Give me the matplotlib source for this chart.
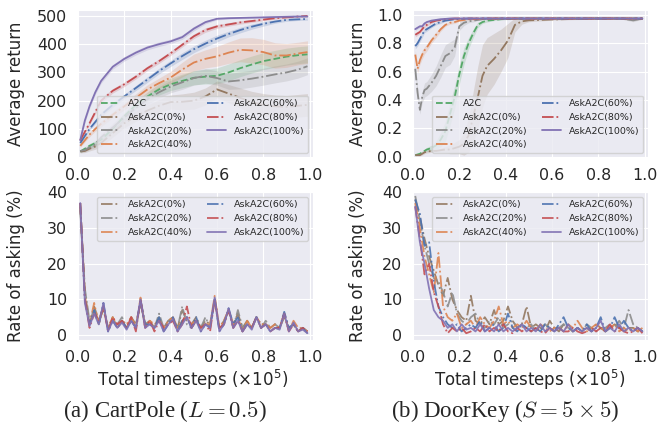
import numpy as np
import matplotlib
matplotlib.use('Agg')
import matplotlib.pyplot as plt
import seaborn as sns

sns.set_style('darkgrid')
plt.rcParams['font.family'] = ['DejaVu Sans']
plt.rcParams['mathtext.fontset'] = 'dejavusans'

# colours / styles per method (seaborn deep palette)
names = ['A2C', 'AskA2C(0%)', 'AskA2C(20%)', 'AskA2C(40%)',
         'AskA2C(60%)', 'AskA2C(80%)', 'AskA2C(100%)']
colors = ['#55A868', '#937860', '#8C8C8C', '#DD8452', '#4C72B0', '#C44E52', '#8172B3']
styles = ['--', '-.', '-.', '-.', '-.', '-.', '-']

# ---- CartPole average return ----
cp_x = [0.01, 0.03, 0.05, 0.075, 0.1, 0.15, 0.2, 0.25, 0.3, 0.35, 0.4, 0.45,
        0.5, 0.55, 0.6, 0.65, 0.7, 0.75, 0.8, 0.85, 0.9, 0.95, 0.99]
cp_a2c = [20, 30, 40, 50, 62, 100, 145, 185, 215, 240, 258, 270,
          281, 285, 288, 300, 315, 328, 340, 348, 356, 361, 364]
cp_0 = [20, 22, 30, 38, 50, 85, 120, 145, 165, 182, 195, 196,
        200, 215, 240, 225, 210, 195, 185, 180, 178, 182, 185]
cp_20 = [22, 25, 35, 45, 70, 105, 140, 175, 205, 230, 250, 265,
         280, 288, 280, 268, 272, 278, 285, 293, 300, 310, 322]
cp_40 = [40, 60, 80, 100, 118, 150, 180, 210, 240, 262, 282, 310,
         335, 348, 357, 370, 380, 378, 372, 360, 360, 367, 372]
cp_60 = [50, 75, 100, 125, 150, 185, 215, 245, 275, 305, 332, 358,
         382, 402, 420, 436, 450, 462, 472, 480, 486, 488, 489]
cp_80 = [60, 90, 120, 160, 200, 235, 258, 285, 315, 340, 368, 398,
         428, 450, 463, 470, 477, 482, 487, 492, 495, 498, 500]
cp_100 = [60, 130, 180, 230, 270, 320, 348, 370, 388, 400, 410, 425,
          455, 478, 490, 492, 493, 494, 495, 496, 497, 498, 498]
cp_sd_a2c = [5, 6, 8, 8, 10, 10, 12, 14, 16, 20, 22, 24,
             25, 26, 28, 30, 30, 30, 30, 30, 30, 30, 30]
cp_sd_0 = [5, 6, 8, 10, 12, 14, 16, 18, 20, 22, 25, 28,
           30, 30, 30, 32, 35, 38, 40, 40, 40, 40, 40]
cp_sd_20 = [5, 6, 8, 10, 12, 14, 15, 16, 18, 20, 22, 25,
            25, 26, 25, 28, 30, 30, 30, 30, 30, 30, 30]
cp_sd_40 = [5, 6, 8, 8, 10, 10, 12, 14, 16, 18, 22, 26,
            30, 32, 35, 38, 42, 45, 45, 45, 42, 40, 40]
cp_sd_60 = [5, 5, 6, 6, 8, 8, 8, 9, 10, 10, 11, 12,
            12, 12, 12, 10, 10, 9, 8, 6, 5, 4, 4]
cp_sd_80 = [5, 6, 6, 7, 8, 8, 8, 8, 8, 8, 8, 8,
            8, 8, 7, 6, 6, 5, 4, 4, 3, 3, 3]
cp_sd_100 = [5, 8, 8, 8, 8, 8, 8, 8, 8, 8, 8, 8,
             8, 6, 4, 3, 3, 3, 3, 3, 3, 3, 3]

# ---- DoorKey average return ----
dk_x = [0.01, 0.02, 0.03, 0.04, 0.05, 0.06, 0.08, 0.1, 0.12, 0.14, 0.16, 0.18,
        0.2, 0.22, 0.24, 0.26, 0.28, 0.3, 0.32, 0.35, 0.38, 0.41, 0.44, 0.47,
        0.5, 0.6, 0.7, 0.8, 0.9, 0.95, 0.99]
dk_a2c = [0.01, 0.015, 0.02, 0.03, 0.04, 0.05, 0.06, 0.08, 0.12, 0.18, 0.30, 0.42,
          0.58, 0.71, 0.80, 0.87, 0.93, 0.95, 0.96, 0.965, 0.97, 0.972, 0.974, 0.975,
          0.975, 0.975, 0.975, 0.975, 0.975, 0.975, 0.975]
dk_0 = [0.01, 0.01, 0.01, 0.02, 0.03, 0.035, 0.04, 0.04, 0.045, 0.05, 0.05, 0.06,
        0.07, 0.09, 0.15, 0.28, 0.42, 0.57, 0.64, 0.69, 0.75, 0.82, 0.93, 0.955,
        0.962, 0.968, 0.972, 0.975, 0.975, 0.968, 0.975]
dk_20 = [0.62, 0.45, 0.33, 0.42, 0.47, 0.48, 0.52, 0.57, 0.64, 0.71, 0.73, 0.77,
         0.92, 0.945, 0.955, 0.96, 0.965, 0.97, 0.972, 0.974, 0.975, 0.975, 0.975, 0.975,
         0.975, 0.975, 0.975, 0.975, 0.975, 0.962, 0.975]
dk_40 = [0.72, 0.62, 0.68, 0.72, 0.75, 0.77, 0.82, 0.86, 0.90, 0.93, 0.945, 0.95,
         0.96, 0.965, 0.97, 0.97, 0.972, 0.974, 0.975, 0.975, 0.975, 0.975, 0.975, 0.975,
         0.975, 0.975, 0.975, 0.975, 0.975, 0.975, 0.975]
dk_60 = [0.78, 0.80, 0.83, 0.86, 0.89, 0.90, 0.92, 0.94, 0.95, 0.96, 0.965, 0.97,
         0.972, 0.974, 0.975, 0.975, 0.975, 0.975, 0.975, 0.975, 0.975, 0.975, 0.975, 0.975,
         0.975, 0.975, 0.975, 0.975, 0.975, 0.975, 0.975]
dk_80 = [0.86, 0.87, 0.88, 0.90, 0.92, 0.93, 0.95, 0.96, 0.965, 0.97, 0.972, 0.975,
         0.975, 0.975, 0.975, 0.975, 0.975, 0.975, 0.975, 0.975, 0.975, 0.975, 0.975, 0.975,
         0.975, 0.975, 0.975, 0.975, 0.975, 0.975, 0.975]
dk_100 = [0.90, 0.91, 0.92, 0.92, 0.94, 0.95, 0.96, 0.965, 0.97, 0.972, 0.975, 0.975,
          0.975, 0.975, 0.975, 0.975, 0.975, 0.975, 0.975, 0.975, 0.975, 0.975, 0.975, 0.975,
          0.975, 0.975, 0.975, 0.975, 0.975, 0.975, 0.975]
dk_sd_a2c = [0.005, 0.005, 0.01, 0.01, 0.01, 0.015, 0.02, 0.03, 0.05, 0.07, 0.08, 0.08,
             0.07, 0.06, 0.04, 0.03, 0.02, 0.01, 0.01, 0.005, 0.005, 0.005, 0.005, 0.005,
             0.005, 0.005, 0.005, 0.005, 0.005, 0.005, 0.005]
dk_sd_0 = [0.005, 0.005, 0.005, 0.01, 0.01, 0.01, 0.01, 0.01, 0.015, 0.02, 0.03, 0.04,
           0.05, 0.08, 0.12, 0.18, 0.22, 0.22, 0.2, 0.18, 0.15, 0.12, 0.05, 0.02,
           0.01, 0.005, 0.005, 0.005, 0.005, 0.01, 0.005]
dk_sd_20 = [0.04, 0.04, 0.03, 0.04, 0.05, 0.05, 0.06, 0.07, 0.08, 0.08, 0.08, 0.06,
            0.03, 0.02, 0.01, 0.01, 0.005, 0.005, 0.005, 0.005, 0.005, 0.005, 0.005, 0.005,
            0.005, 0.005, 0.005, 0.005, 0.005, 0.01, 0.005]
dk_sd_40 = [0.03, 0.03, 0.03, 0.03, 0.025, 0.025, 0.02, 0.02, 0.015, 0.01, 0.01, 0.01,
            0.005, 0.005, 0.005, 0.005, 0.005, 0.005, 0.005, 0.005, 0.005, 0.005, 0.005, 0.005,
            0.005, 0.005, 0.005, 0.005, 0.005, 0.005, 0.005]
dk_sd_60 = [0.02, 0.02, 0.02, 0.02, 0.015, 0.015, 0.01, 0.01, 0.01, 0.005, 0.005, 0.005,
            0.005, 0.005, 0.005, 0.005, 0.005, 0.005, 0.005, 0.005, 0.005, 0.005, 0.005, 0.005,
            0.005, 0.005, 0.005, 0.005, 0.005, 0.005, 0.005]
dk_sd_80 = [0.015, 0.015, 0.01, 0.01, 0.01, 0.01, 0.01, 0.005, 0.005, 0.005, 0.005, 0.005,
            0.005, 0.005, 0.005, 0.005, 0.005, 0.005, 0.005, 0.005, 0.005, 0.005, 0.005, 0.005,
            0.005, 0.005, 0.005, 0.005, 0.005, 0.005, 0.005]
dk_sd_100 = [0.01, 0.01, 0.01, 0.01, 0.01, 0.005, 0.005, 0.005, 0.005, 0.005, 0.005, 0.005,
             0.005, 0.005, 0.005, 0.005, 0.005, 0.005, 0.005, 0.005, 0.005, 0.005, 0.005, 0.005,
             0.005, 0.005, 0.005, 0.005, 0.005, 0.005, 0.005]

# ---- rate of asking (%), sampled every 0.02 from 0.01 to 0.99 ----
ask_x = np.linspace(0.01, 0.99, 50)
cp_ask_0 = [36, 12, 3, 8, 4, 7, 2, 5, 2, 4, 2, 5, 3, 9, 3, 4, 2, 5, 2, 4, 5, 2, 7, 4, 3,
            5, 2, 4, 3, 10, 2, 4, 7, 3, 6, 2, 4, 2, 5, 3, 3, 2, 3, 2, 5, 2, 3, 1, 2, 1]
cp_ask_20 = [35, 13, 4, 7, 3, 8, 2, 4, 3, 5, 2, 4, 2, 9, 3, 3, 2, 6, 2, 4, 4, 2, 8, 3, 2,
             4, 2, 5, 2, 10, 2, 3, 7, 2, 7, 2, 3, 2, 5, 2, 4, 2, 3, 2, 6, 2, 3, 1, 2, 1]
cp_ask_40 = [37, 11, 3, 9, 3, 8, 2, 5, 2, 4, 3, 5, 2, 10.5, 2, 4, 3, 4, 2, 4, 5, 2, 4, 5, 3,
             4, 2, 3, 3, 11, 2, 4, 7, 3, 5, 1, 4, 2, 5, 3, 3, 2, 3, 2, 6, 1, 4, 2, 2, 1]
cp_ask_60 = [37, 10, 3, 7, 3, 9, 1, 4, 2, 4, 2, 4, 2, 10, 3, 3, 2, 5, 1, 3, 5, 1, 4, 5, 2,
             5, 1, 3, 2, 10, 1, 3, 7.5, 3, 5, 1, 3, 2, 5, 2, 3, 1, 2, 2, 6.5, 2, 3, 1, 2, 0.5]
cp_ask_80 = [37, 10, 2, 6, 4, 8, 1, 5, 3, 4, 2, 5, 1, 10, 2, 4, 1, 4, 2, 3, 4, 1, 3, 8, 2,
             4, 2, 3, 1, 10, 2, 3, 7, 2, 4, 1, 3, 2, 5, 2, 3, 1, 2, 2, 6, 1, 3, 1, 2, 1]
cp_ask_100 = [37, 9, 2.5, 6, 3, 9, 1, 4, 2, 3.5, 1.5, 4, 2, 10, 2, 3, 2, 4, 1, 3, 4.5, 1, 3, 5, 2,
              4, 1, 3, 2, 10.5, 1, 3, 7.5, 2, 4, 1, 3, 1.5, 5, 2, 3, 1, 2, 1.5, 6, 1, 3.5, 1, 1.5, 0.5]

dk_ask_0 = [38, 33, 27, 22, 18, 14, 11, 16, 10, 7, 5, 4, 11, 4, 3, 5, 3, 7, 3, 4, 8, 4, 2, 3, 8,
            2, 3, 2, 1, 4, 2, 1, 3, 2, 1, 2, 1, 2, 1, 3, 2, 1, 2, 3, 2, 1, 2, 2, 1, 1]
dk_ask_20 = [39, 32, 25, 20, 16, 15, 12, 8, 12, 6, 4, 3, 5, 6, 3, 2, 4, 3, 5, 2, 3, 4, 2, 3, 2,
             3, 1, 2, 3, 2, 1, 2, 3, 2, 1, 2, 1, 3, 2, 1, 2, 2, 3, 2, 4, 2, 7, 3, 2, 1]
dk_ask_40 = [37, 30, 22, 17, 12, 23, 8, 5, 4, 6, 2, 3, 4, 2, 5, 3, 2, 4, 8, 3, 4, 2, 3, 2, 4,
             2, 1, 3, 2, 1, 2, 2, 1, 3, 2, 4, 2, 1, 2, 3, 2, 1, 2, 3, 1, 2, 1, 2, 1, 2]
dk_ask_60 = [38, 34, 25, 26, 15, 8, 5, 3, 2, 3, 1, 2, 3, 2, 4, 1, 2, 3, 1, 2, 6, 2, 1, 3, 2,
             1, 2, 1, 3, 2, 1, 3, 5, 2, 1, 2, 1, 3, 1, 2, 5, 1, 2, 5, 2, 4, 2, 1, 2, 1]
dk_ask_80 = [36, 27, 17, 20, 12, 8, 3, 0.5, 2, 1, 2, 0.5, 1, 2, 1, 3, 1, 2, 1, 3, 1, 0.5, 2, 1, 2,
             1, 2, 1, 0.5, 2, 1, 2, 1, 1, 2, 1, 0.5, 1, 2, 1, 2, 1, 3, 1, 2, 1, 0.5, 1, 2, 0.5]
dk_ask_100 = [36, 26, 20, 13, 7, 5, 4, 2, 3, 1, 3, 1.5, 2, 1, 3, 1, 2, 1, 3, 1, 2, 1, 2, 3, 1,
              2, 1, 3, 1, 2, 1, 2, 1, 3, 1, 2, 1, 2, 1, 2, 4, 1, 2, 1, 3, 1, 2, 1, 2, 1]

cp_ret = [cp_a2c, cp_0, cp_20, cp_40, cp_60, cp_80, cp_100]
cp_sd = [cp_sd_a2c, cp_sd_0, cp_sd_20, cp_sd_40, cp_sd_60, cp_sd_80, cp_sd_100]
dk_ret = [dk_a2c, dk_0, dk_20, dk_40, dk_60, dk_80, dk_100]
dk_sd = [dk_sd_a2c, dk_sd_0, dk_sd_20, dk_sd_40, dk_sd_60, dk_sd_80, dk_sd_100]
cp_ask = [cp_ask_0, cp_ask_20, cp_ask_40, cp_ask_60, cp_ask_80, cp_ask_100]
dk_ask = [dk_ask_0, dk_ask_20, dk_ask_40, dk_ask_60, dk_ask_80, dk_ask_100]

fig = plt.figure(figsize=(6.59, 4.26), dpi=100)
W, H = 659, 426
def add_ax(l, t, r, b):
    return fig.add_axes([l / W, 1 - b / H, (r - l) / W, (b - t) / H])

ax_cp = add_ax(77, 10, 313, 158)
ax_dk = add_ax(412, 10, 648, 158)
ax_cpa = add_ax(77, 192, 313, 340)
ax_dka = add_ax(412, 192, 648, 340)

fs = 11.4
lab_fs = 12
leg_fs = 6.8

# return panels
for ax, xs, means, sds in [(ax_cp, cp_x, cp_ret, cp_sd), (ax_dk, dk_x, dk_ret, dk_sd)]:
    for name, c, ls, m, s in zip(names, colors, styles, means, sds):
        m = np.array(m)
        s = np.array(s)
        ax.fill_between(xs, m - s, m + s, color=c, alpha=0.2, lw=0)
        ax.plot(xs, m, ls, color=c, lw=1.3, label=name)
    ax.legend(loc='lower right', ncol=2, fontsize=leg_fs, columnspacing=1.6)
    ax.set_ylabel('Average return', fontsize=lab_fs)

ax_cp.set_ylim(-3, 521)
ax_cp.set_yticks([0, 100, 200, 300, 400, 500])
ax_dk.set_ylim(-0.01, 1.035)
ax_dk.set_yticks([0.0, 0.2, 0.4, 0.6, 0.8, 1.0])

# asking panels
for ax, series in [(ax_cpa, cp_ask), (ax_dka, dk_ask)]:
    for name, c, ls, v in zip(names[1:], colors[1:], styles[1:], series):
        ax.plot(ask_x, v, ls, color=c, lw=1.3, alpha=0.9, label=name)
    ax.legend(loc='upper right', ncol=2, fontsize=leg_fs, columnspacing=1.6)
    ax.set_ylabel('Rate of asking (%)', fontsize=lab_fs)
    ax.set_xlabel(r'Total timesteps ($\times 10^5$)', fontsize=lab_fs)
    ax.set_ylim(-1.4, 40.1)
    ax.set_yticks([0, 10, 20, 30, 40])

for ax in [ax_cp, ax_dk, ax_cpa, ax_dka]:
    ax.set_xlim(-0.004, 1.014)
    ax.set_xticks([0.0, 0.2, 0.4, 0.6, 0.8, 1.0])
    ax.tick_params(labelsize=fs)

ax_cp.yaxis.set_label_coords(-0.22, 0.5)
ax_cpa.yaxis.set_label_coords(-0.22, 0.5)
ax_dk.yaxis.set_label_coords(-0.19, 0.5)
ax_dka.yaxis.set_label_coords(-0.19, 0.5)
ax_cpa.xaxis.set_label_coords(0.49, -0.19)
ax_dka.xaxis.set_label_coords(0.50, -0.19)

cap = dict(ha='center', va='center', fontsize=16.5, family='Liberation Serif', math_fontfamily='cm')
fig.text(165 / W, 1 - 411 / H, r'(a) CartPole ($L = 0.5$)', **cap)
fig.text(505 / W, 1 - 411 / H, r'(b) DoorKey ($S = 5 \times 5$)', **cap)

fig.savefig('out.png', dpi=100)
